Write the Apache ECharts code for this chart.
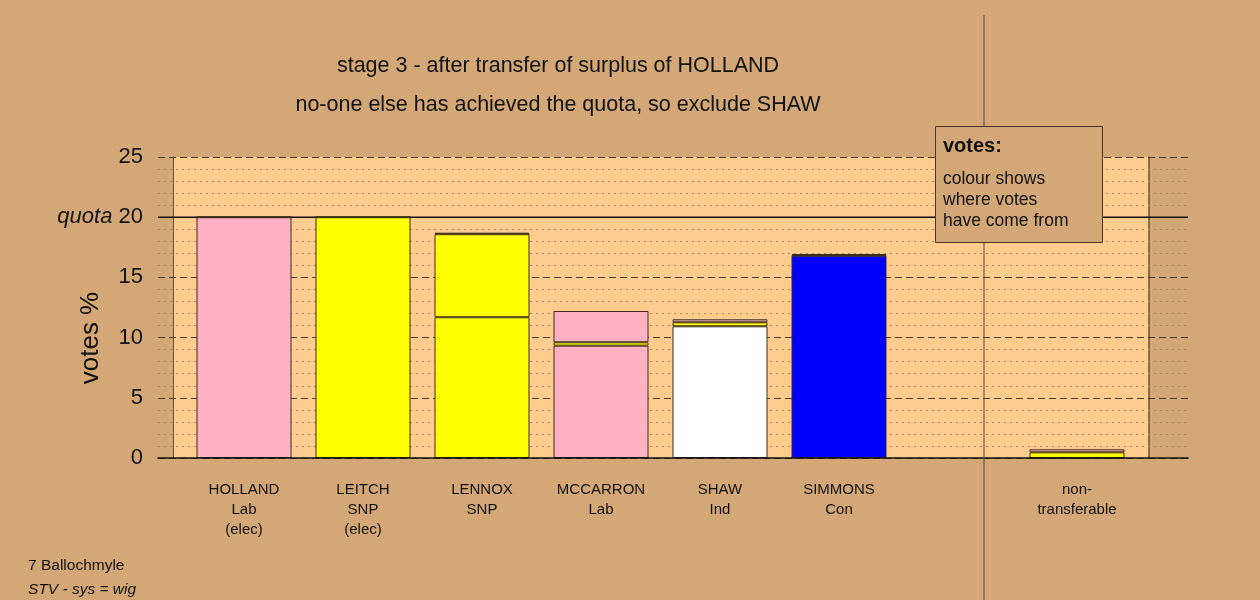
<!DOCTYPE html>
<html><head><meta charset="utf-8">
<script src="https://cdn.jsdelivr.net/npm/echarts@6/dist/echarts.min.js"></script>
<style>html,body{margin:0;padding:0;background:#d4a876;}#c{width:1260px;height:600px;}</style>
</head><body><div id="c"></div>
<script>
// ---- data ----
const categories = ['HOLLAND\nLab\n(elec)', 'LEITCH\nSNP\n(elec)', 'LENNOX\nSNP', 'MCCARRON\nLab', 'SHAW\nInd', 'SIMMONS\nCon', '', 'non-\ntransferable'];
const ownColours = ['#ffb1c4', '#ffff00', '#ffff00', '#ffb1c4', '#ffffff', '#0000ff', '#ffffff', '#ffffff'];
const ownVotes = [20.0, 20.0, 11.69, 9.33, 10.94, 16.80, null, 0];
const fromLeitch = [0, 0, 6.90, 0.28, 0.33, 0.06, null, 0.47];
const fromHolland = [0, 0, 0.12, 2.60, 0.25, 0.08, null, 0.25];
const quota = 20;
const yTicks = [0, 5, 10, 15, 20, 25];
const titleLines = ['stage 3 - after transfer of surplus of HOLLAND', 'no-one else has achieved the quota, so exclude SHAW'];

const FONT = '"Liberation Sans", Arial, sans-serif';
const BG = '#d4a876';
const PLOT = '#ffcc90';
const EDGE = '#3b2a1a';

const chart = echarts.init(document.getElementById('c'), null, {renderer: 'canvas'});

function stackSeries(name, vals, colours) {
  return {
    name, type: 'bar', stack: 'v', xAxisIndex: 2, yAxisIndex: 3,
    barWidth: 95, z: 3,
    data: vals.map((v, i) => ({
      value: v,
      itemStyle: {color: Array.isArray(colours) ? colours[i] : colours}
    })),
    itemStyle: {borderColor: EDGE, borderWidth: 1},
    emphasis: {disabled: true}
  };
}

const option = {
  backgroundColor: BG,
  animation: false,
  textStyle: {fontFamily: FONT},
  title: [
    {text: titleLines[0], left: 553, top: 50, textAlign: 'center',
     textStyle: {fontFamily: FONT, fontSize: 21.5, fontWeight: 'normal', color: '#111'}},
    {text: titleLines[1], left: 553, top: 89, textAlign: 'center',
     textStyle: {fontFamily: FONT, fontSize: 21.5, fontWeight: 'normal', color: '#111'}}
  ],
  grid: [
    {left: 158, right: 72, top: 157, bottom: 142, z: 1},
    {left: 173, right: 111, top: 157, bottom: 142, show: true, backgroundColor: PLOT, borderWidth: 0, z: 0},
    {left: 184.5, right: 123.5, top: 157, bottom: 142, z: 2}
  ],
  xAxis: [
    {gridIndex: 0, type: 'value', min: 0, max: 1, z: 5,
     axisLine: {show: true, onZero: false, lineStyle: {color: '#111', width: 1.5}},
     axisTick: {show: false}, axisLabel: {show: false}, splitLine: {show: false}},
    {gridIndex: 1, type: 'value', min: 0, max: 1, show: false},
    {gridIndex: 2, type: 'category', data: categories,
     axisLine: {show: false}, axisTick: {show: false}, splitLine: {show: false},
     axisLabel: {interval: 0, margin: 22, color: '#111', fontFamily: FONT, fontSize: 15, lineHeight: 20, align: 'center'}}
  ],
  yAxis: [
    {gridIndex: 0, type: 'value', min: 0, max: 25, interval: 5, z: 1,
     axisLine: {show: false}, axisTick: {show: false},
     axisLabel: {margin: 15, color: '#111', fontFamily: FONT, fontSize: 22,
       formatter: v => v === quota ? '{q|quota} ' + v : String(v),
       rich: {q: {fontStyle: 'italic', fontSize: 22, fontFamily: FONT, color: '#111'}}},
     splitLine: {show: true, lineStyle: {color: '#4a3a2a', type: [7, 4], width: 1}},
     minorTick: {show: false, splitNumber: 5},
     minorSplitLine: {show: true, lineStyle: {color: '#a58460', type: [2, 4], width: 1}}},
    {gridIndex: 1, type: 'value', min: 0, max: 25, position: 'left',
     axisLine: {show: true, lineStyle: {color: '#6b5030', width: 1}},
     axisTick: {show: false}, axisLabel: {show: false}, splitLine: {show: false}},
    {gridIndex: 1, type: 'value', min: 0, max: 25, position: 'right',
     axisLine: {show: true, lineStyle: {color: '#6b5030', width: 1.5}},
     axisTick: {show: false}, axisLabel: {show: false}, splitLine: {show: false}},
    {gridIndex: 2, type: 'value', min: 0, max: 25, show: false}
  ],
  series: [
    {type: 'line', xAxisIndex: 0, yAxisIndex: 0, data: [[0, quota], [1, quota]],
     symbol: 'none', z: 2, lineStyle: {color: '#111', width: 1.5}, silent: true},
    stackSeries('own', ownVotes, ownColours),
    stackSeries('from LEITCH', fromLeitch, '#ffff00'),
    stackSeries('from HOLLAND', fromHolland, '#ffb1c4')
  ],
  graphic: [
    {type: 'line', shape: {x1: 984, y1: 15, x2: 984, y2: 600}, z: 10,
     style: {stroke: '#5c4630', lineWidth: 1}},
    {type: 'rect', shape: {x: 935.5, y: 126.5, width: 167, height: 116}, z: 20,
     style: {fill: BG, stroke: '#4a3520', lineWidth: 1}},
    {type: 'text', x: 943, y: 146, z: 21,
     style: {text: 'votes:', font: 'bold 20px ' + FONT, fill: '#111', verticalAlign: 'middle'}},
    {type: 'text', x: 943, y: 169, z: 21,
     style: {text: 'colour shows\nwhere votes\nhave come from', font: '17.5px ' + FONT, lineHeight: 21, fill: '#111'}},
    {type: 'text', x: 28, y: 566, z: 21,
     style: {text: '7 Ballochmyle', font: '15.5px ' + FONT, fill: '#111', verticalAlign: 'middle'}},
    {type: 'text', x: 28, y: 590, z: 21,
     style: {text: 'STV - sys = wig', font: 'italic 15.5px ' + FONT, fill: '#111', verticalAlign: 'middle'}},
    {type: 'text', x: 91, y: 338, rotation: Math.PI / 2, z: 21,
     style: {text: 'votes %', font: '26px ' + FONT, fill: '#111', align: 'center', verticalAlign: 'middle'}}
  ]
};
chart.setOption(option);
</script>
</body></html>
